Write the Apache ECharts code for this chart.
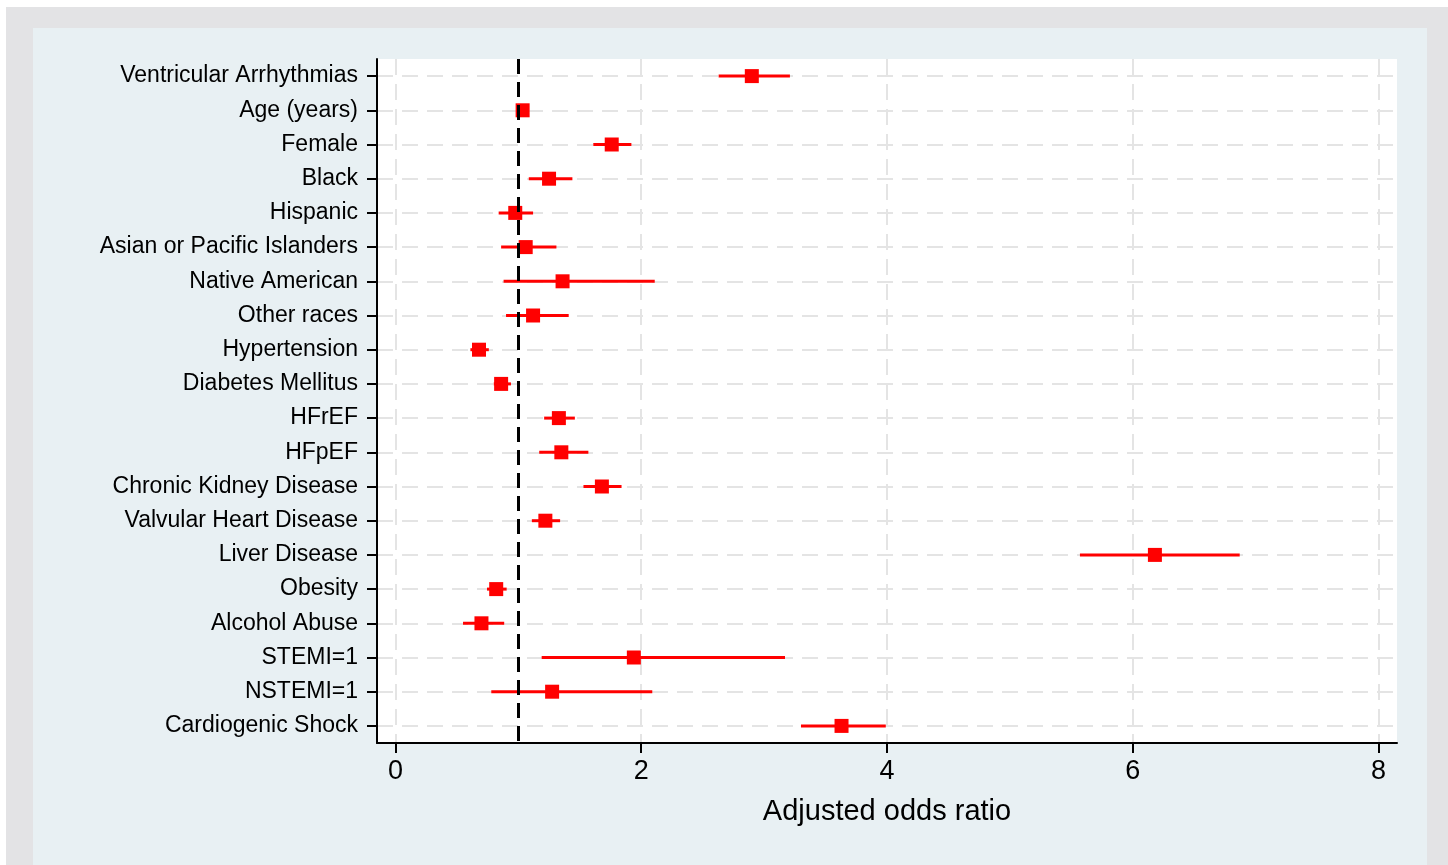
<!DOCTYPE html>
<meta charset="utf-8">
<title>Adjusted odds ratio</title>
<style>
body {
  margin: 0;
  background: #fff;
  font-family: "Liberation Sans", Arial, sans-serif;
}
#outer {
  position: absolute;
  left: 6px; top: 7px;
  width: 1442px; height: 858px;
  background: #e3e3e5;
}
#main {
  position: absolute;
  left: 33px; top: 28px;
  width: 1394px; height: 837px;
}
</style>
<body>
<div id="outer"></div>
<div id="main"></div>
<script src="https://cdn.jsdelivr.net/npm/echarts@6/dist/echarts.min.js"></script>
<script>
// rows top to bottom
var categories = ['Ventricular Arrhythmias', 'Age (years)', 'Female', 'Black', 'Hispanic',
  'Asian or Pacific Islanders', 'Native American', 'Other races', 'Hypertension',
  'Diabetes Mellitus', 'HFrEF', 'HFpEF', 'Chronic Kidney Disease', 'Valvular Heart Disease',
  'Liver Disease', 'Obesity', 'Alcohol Abuse', 'STEMI=1', 'NSTEMI=1', 'Cardiogenic Shock'];
var oddsRatio = [2.90, 1.035, 1.76, 1.25, 0.975, 1.06, 1.36, 1.12, 0.68, 0.86,
  1.33, 1.35, 1.68, 1.22, 6.18, 0.82, 0.70, 1.94, 1.275, 3.63];
var ciLow = [2.63, 1.03, 1.61, 1.085, 0.84, 0.86, 0.88, 0.90, 0.61, 0.80,
  1.21, 1.17, 1.53, 1.11, 5.57, 0.745, 0.55, 1.19, 0.78, 3.30];
var ciHigh = [3.21, 1.04, 1.92, 1.44, 1.12, 1.31, 2.11, 1.41, 0.76, 0.94,
  1.46, 1.57, 1.84, 1.34, 6.87, 0.905, 0.885, 3.17, 2.09, 3.99];
var xTicks = [0, 2, 4, 6, 8];
var refLine = 1;

var rowIdx = categories.map(function (c, i) { return i; });
var gridDash = { color: '#e4e4e4', width: 2, type: [16, 9] };

var chart = echarts.init(document.getElementById('main'));
chart.setOption({
  backgroundColor: '#e8f0f3',
  animation: false,
  textStyle: { fontFamily: 'Liberation Sans' },
  grid: {
    left: 344, top: 31, width: 1020, height: 684,
    show: true, backgroundColor: '#fff', borderWidth: 0
  },
  xAxis: {
    type: 'value', min: -0.15, max: 8.15,
    name: 'Adjusted odds ratio', nameLocation: 'middle', nameGap: 54,
    nameTextStyle: { fontSize: 29, color: '#000' },
    axisLine: { onZero: false, lineStyle: { color: '#000', width: 2 } },
    axisTick: { show: true, length: 10, customValues: xTicks, lineStyle: { color: '#000', width: 2 } },
    axisLabel: { customValues: xTicks, fontSize: 27, color: '#000', margin: 15 },
    splitLine: { show: true, lineStyle: gridDash }
  },
  yAxis: {
    type: 'value', min: -0.5, max: 19.5, inverse: true,
    axisLine: { show: true, onZero: false, lineStyle: { color: '#000', width: 2 } },
    axisTick: { show: true, length: 10, customValues: rowIdx, lineStyle: { color: '#000', width: 2 } },
    axisLabel: {
      customValues: rowIdx, fontSize: 23, color: '#000', margin: 19,
      formatter: function (v) { return categories[v]; }
    },
    splitLine: { show: true, lineStyle: gridDash }
  },
  series: [{
    type: 'custom',
    data: rowIdx.map(function (i) { return [ciLow[i], ciHigh[i], i]; }),
    renderItem: function (params, api) {
      var a = api.coord([api.value(0), api.value(2)]);
      var b = api.coord([api.value(1), api.value(2)]);
      return {
        type: 'line',
        shape: { x1: a[0], y1: a[1], x2: b[0], y2: b[1] },
        style: { stroke: '#f00', lineWidth: 3 }
      };
    },
    z: 3
  }, {
    type: 'scatter',
    symbol: 'rect',
    symbolSize: 14,
    itemStyle: { color: '#f00', opacity: 1 },
    data: rowIdx.map(function (i) { return [oddsRatio[i], i]; }),
    z: 4,
    markLine: {
      silent: true,
      symbol: 'none',
      label: { show: false },
      lineStyle: { color: '#000', width: 3, type: [15, 8] },
      data: [{ xAxis: refLine }]
    }
  }]
});
</script>
</body>
